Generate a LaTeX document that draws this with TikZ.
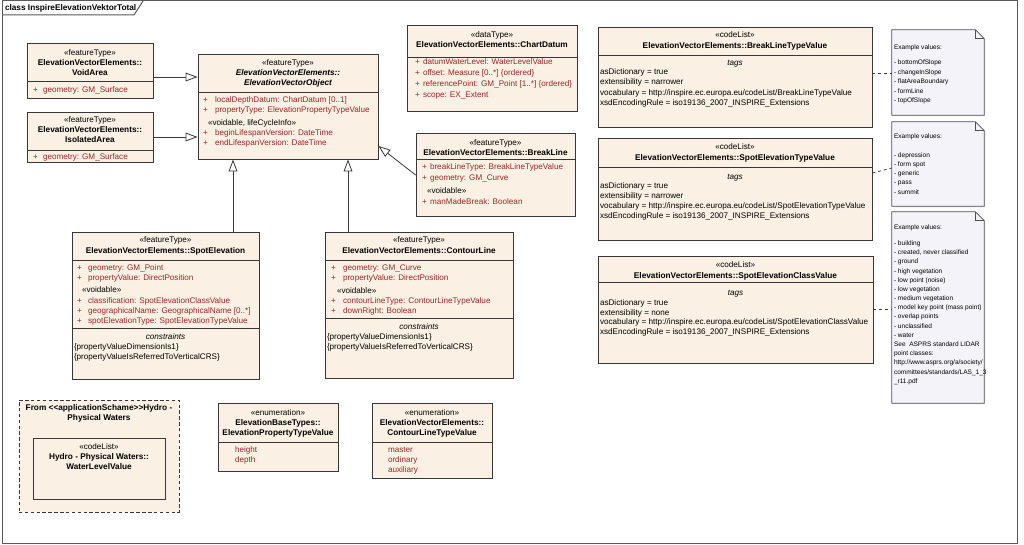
\documentclass[tikz,border=0pt]{standalone}
\usepackage{fontspec}
\setmainfont{Liberation Sans}
\usetikzlibrary{arrows.meta,fit,shadows}
\definecolor{boxF}{RGB}{250,240,227}
\definecolor{lineC}{RGB}{55,55,55}
\definecolor{attrC}{RGB}{155,40,40}
\definecolor{noteF}{RGB}{244,243,249}
\definecolor{noteL}{RGB}{80,80,80}
\newcounter{tlc}
\newcommand\tline[3][]{\stepcounter{tlc}\node[txt,#1] (tl\arabic{tlc}) at (#2) {#3};}
\newcommand\attr[4]{\tline[lt,ac]{#1,#3}{+}\tline[lt,ac]{#2,#3}{#4}}
\newcommand\ntl[2]{\tline[nt]{894,#1}{#2}}
\newcommand\mknote[5]{%
  \node[fit={(#2,#3) (#4,#5)}, inner sep=0pt] (#1) {};
  \path[noteshape] (#1.north west) -- ([xshift=-6.75pt]#1.north east) -- ([yshift=-6.75pt]#1.north east) -- (#1.south east) -- (#1.south west) -- cycle;
  \draw[noteL, line width=0.55pt] ([xshift=-6.75pt]#1.north east) |- ([yshift=-6.75pt]#1.north east);}
\tikzset{
  txt/.style={inner sep=0pt, outer sep=0pt, font=\fontsize{6.1}{7}\selectfont, text height=4.4pt, text depth=1.2pt},
  lt/.style={anchor=west},
  ac/.style={text=attrC},
  bd/.style={font=\fontsize{6.2}{7}\selectfont\bfseries},
  bi/.style={font=\fontsize{6.2}{7}\selectfont\bfseries\itshape},
  it/.style={font=\fontsize{6.1}{7}\selectfont\itshape},
  nt/.style={anchor=west, font=\fontsize{4.9}{6}\selectfont, text height=3.6pt, text depth=1pt},
  cls/.style={draw=lineC, fill=boxF, line width=0.65pt, inner sep=0pt, drop shadow={shadow xshift=0.9pt, shadow yshift=-0.9pt, fill=black!22}},
  pkg/.style={draw=lineC, fill=boxF, line width=0.6pt, inner sep=0pt, dash pattern=on 2.6pt off 1.8pt},
  noteshape/.style={draw=noteL, fill=noteF, line width=0.55pt, drop shadow={shadow xshift=0.9pt, shadow yshift=-0.9pt, fill=black!18}},
  divl/.style={draw=lineC, line width=0.65pt},
  frm/.style={draw=black!65, line width=0.75pt},
  gen/.style={draw=lineC, line width=0.6pt, -{Triangle[length=9pt,width=6.5pt,fill=white,line width=0.6pt]}},
  notelink/.style={draw=lineC, line width=0.55pt, dash pattern=on 2.2pt off 2.2pt},
}
\begin{document}
\begin{tikzpicture}[x=0.75pt,y=-0.75pt]
\fill[white] (0,0) rectangle (1024,545);
\useasboundingbox (0,0) rectangle (1024,545);
\draw[frm] (2,1) rectangle (1017,543);
\draw[frm] (2,15) -- (134,15) -- (143,1);
\tline[lt,bd]{5,8}{class InspireElevationVektorTotal}

% VoidArea
\node[cls, fit={(27,43) (153,98)}] (void) {};
\draw[divl] (27,81) -- (153,81);
\tline{90,53}{«featureType»}
\tline[bd]{90,63}{ElevationVectorElements::}
\tline[bd]{90,73}{VoidArea}
\attr{33}{43}{90}{geometry: GM\_Surface}

% IsolatedArea
\node[cls, fit={(27,112) (153,162)}] (iso) {};
\draw[divl] (27,150) -- (153,150);
\tline{90,120}{«featureType»}
\tline[bd]{90,130}{ElevationVectorElements::}
\tline[bd]{90,140}{IsolatedArea}
\attr{33}{43}{157}{geometry: GM\_Surface}

% ElevationVectorObject
\node[cls, fit={(198,54) (378,159)}] (evo) {};
\draw[divl] (198,92) -- (378,92);
\tline{288,63}{«featureType»}
\tline[bi]{288,73}{ElevationVectorElements::}
\tline[bi]{288,83}{ElevationVectorObject}
\attr{203}{215}{100}{localDepthDatum: ChartDatum [0..1]}
\attr{203}{215}{110}{propertyType: ElevationPropertyTypeValue}
\tline[lt]{208,123}{«voidable, lifeCycleInfo»}
\attr{203}{215}{133}{beginLifespanVersion: DateTime}
\attr{203}{215}{143}{endLifespanVersion: DateTime}

% ChartDatum
\node[cls, fit={(407,25) (577,111)}] (chart) {};
\draw[divl] (407,57) -- (577,57);
\tline{492,35}{«dataType»}
\tline[bd]{492,45}{ElevationVectorElements::ChartDatum}
\attr{415}{423}{62}{datumWaterLevel: WaterLevelValue}
\attr{415}{423}{73}{offset: Measure [0..*] \{ordered\}}
\attr{415}{423}{84}{referencePoint: GM\_Point [1..*] \{ordered\}}
\attr{415}{423}{95}{scope: EX\_Extent}

% BreakLine
\node[cls, fit={(416,133) (575,216)}] (brk) {};
\draw[divl] (416,159) -- (575,159);
\tline{495.5,143}{«featureType»}
\tline[bd]{495.5,153}{ElevationVectorElements::BreakLine}
\attr{422}{430}{167}{breakLineType: BreakLineTypeValue}
\attr{422}{430}{178}{geometry: GM\_Curve}
\tline[lt]{427,191}{«voidable»}
\attr{422}{430}{202}{manMadeBreak: Boolean}

% BreakLineTypeValue
\node[cls, fit={(598,27) (872,127)}] (blt) {};
\draw[divl] (598,55) -- (872,55);
\tline{735,35}{«codeList»}
\tline[bd]{735,46}{ElevationVectorElements::BreakLineTypeValue}
\tline[it]{735,63}{tags}
\tline[lt]{600,72}{asDictionary = true}
\tline[lt]{600,82}{extensibility = narrower}
\tline[lt]{600,93}{vocabulary = http://inspire.ec.europa.eu/codeList/BreakLineTypeValue}
\tline[lt]{600,103}{xsdEncodingRule = iso19136\_2007\_INSPIRE\_Extensions}

% SpotElevationTypeValue
\node[cls, fit={(598,138) (872,240)}] (setv) {};
\draw[divl] (598,167) -- (872,167);
\tline{735,147}{«codeList»}
\tline[bd]{735,158}{ElevationVectorElements::SpotElevationTypeValue}
\tline[it]{735,177}{tags}
\tline[lt]{600,186}{asDictionary = true}
\tline[lt]{600,196}{extensibility = narrower}
\tline[lt]{600,206}{vocabulary = http://inspire.ec.europa.eu/codeList/SpotElevationTypeValue}
\tline[lt]{600,216}{xsdEncodingRule = iso19136\_2007\_INSPIRE\_Extensions}

% SpotElevationClassValue
\node[cls, fit={(598,256) (873,363)}] (secv) {};
\draw[divl] (598,282) -- (873,282);
\tline{735.5,265}{«codeList»}
\tline[bd]{735.5,276}{ElevationVectorElements::SpotElevationClassValue}
\tline[it]{735.5,293}{tags}
\tline[lt]{600,303}{asDictionary = true}
\tline[lt]{600,313}{extensibility = none}
\tline[lt]{600,322}{vocabulary = http://inspire.ec.europa.eu/codeList/SpotElevationClassValue}
\tline[lt]{600,332}{xsdEncodingRule = iso19136\_2007\_INSPIRE\_Extensions}

% Notes
\mknote{n1}{892}{30}{984}{115}
\ntl{48}{Example values:}
\ntl{63}{- bottomOfSlope}
\ntl{73}{- changeInSlope}
\ntl{82}{- flatAreaBoundary}
\ntl{92}{- formLine}
\ntl{101}{- topOfSlope}

\mknote{n2}{892}{122}{984}{206}
\ntl{137}{Example values:}
\ntl{156}{- depression}
\ntl{165}{- form spot}
\ntl{174}{- generic}
\ntl{183}{- pass}
\ntl{193}{- summit}

\mknote{n3}{892}{212}{984}{403}
\ntl{228}{Example values:}
\ntl{244}{- building}
\ntl{253}{- created, never classified}
\ntl{262}{- ground}
\ntl{272}{- high vegetation}
\ntl{281}{- low point (noise)}
\ntl{290}{- low vegetation}
\ntl{299}{- medium vegetation}
\ntl{308}{- model key point (mass point)}
\ntl{317}{- overlap points}
\ntl{327}{- unclassified}
\ntl{336}{- water}
\ntl{345}{See~ ASPRS standard LIDAR}
\ntl{354}{point classes:}
\ntl{363}{http://www.asprs.org/a/society/}
\ntl{373}{committees/standards/LAS\_1\_3}
\ntl{382}{\_r11.pdf}

% SpotElevation
\node[cls, fit={(72,232) (259,379)}] (spot) {};
\draw[divl] (72,260) -- (259,260);
\draw[divl] (72,328) -- (259,328);
\tline{165.5,240}{«featureType»}
\tline[bd]{165.5,251}{ElevationVectorElements::SpotElevation}
\attr{77}{88}{268}{geometry: GM\_Point}
\attr{77}{88}{278}{propertyValue: DirectPosition}
\tline[lt]{82,290}{«voidable»}
\attr{77}{88}{301}{classification: SpotElevationClassValue}
\attr{77}{88}{311}{geographicalName: GeographicalName [0..*]}
\attr{77}{88}{321}{spotElevationType: SpotElevationTypeValue}
\tline[it]{165.5,337}{constraints}
\tline[lt]{74,347}{\{propertyValueDimensionIs1\}}
\tline[lt]{74,357}{\{propertyValueIsReferredToVerticalCRS\}}

% ContourLine
\node[cls, fit={(325,232) (513,378)}] (cont) {};
\draw[divl] (325,260) -- (513,260);
\draw[divl] (325,318) -- (513,318);
\tline{419,240}{«featureType»}
\tline[bd]{419,251}{ElevationVectorElements::ContourLine}
\attr{331}{343}{268}{geometry: GM\_Curve}
\attr{331}{343}{278}{propertyValue: DirectPosition}
\tline[lt]{337,291}{«voidable»}
\attr{331}{343}{301}{contourLineType: ContourLineTypeValue}
\attr{331}{343}{311}{downRight: Boolean}
\tline[it]{419,327}{constraints}
\tline[lt]{327,337}{\{propertyValueDimensionIs1\}}
\tline[lt]{327,347}{\{propertyValueIsReferredToVerticalCRS\}}

% Package
\node[pkg, fit={(19,400) (179,512)}] (pkgb) {};
\tline[bd]{99,408}{From <\kern0pt<applicationSchame>\kern0pt>Hydro -}
\tline[bd]{99,418}{Physical Waters}
\node[cls, fit={(33,438) (165,499)}] (wlv) {};
\tline{99,447}{«codeList»}
\tline[bd]{99,457}{Hydro - Physical Waters::}
\tline[bd]{99,467}{WaterLevelValue}

% Enumerations
\node[cls, fit={(218,403) (338,471)}] (ept) {};
\draw[divl] (218,442) -- (338,442);
\tline{278,413}{«enumeration»}
\tline[bd]{278,423}{ElevationBaseTypes::}
\tline[bd]{278,433}{ElevationPropertyTypeValue}
\tline[lt,ac]{235,450}{height}
\tline[lt,ac]{235,460}{depth}

\node[cls, fit={(372,403) (492,478)}] (clt) {};
\draw[divl] (372,442) -- (492,442);
\tline{432,413}{«enumeration»}
\tline[bd]{432,423}{ElevationVectorElements::}
\tline[bd]{432,433}{ContourLineTypeValue}
\tline[lt,ac]{388,450}{master}
\tline[lt,ac]{388,460}{ordinary}
\tline[lt,ac]{388,470}{auxiliary}

% Connectors
\coordinate (c77) at (0,77);
\coordinate (c137) at (0,137);
\coordinate (cb1) at (0,175);
\coordinate (cb2) at (0,146);
\coordinate (cs) at (233,0);
\coordinate (cc) at (348,0);
\draw[gen] (void.east |- c77) -- (evo.west |- c77);
\draw[gen] (iso.east |- c137) -- (evo.west |- c137);
\draw[gen] (brk.west |- cb1) -- (evo.east |- cb2);
\draw[gen] (spot.north -| cs) -- (evo.south -| cs);
\draw[gen] (cont.north -| cc) -- (evo.south -| cc);
\coordinate (d1) at (0,73);
\coordinate (d2a) at (0,173);
\coordinate (d2b) at (0,168);
\coordinate (d3) at (0,309);
\draw[notelink] (blt.east |- d1) -- (n1.west |- d1);
\draw[notelink] (setv.east |- d2a) -- (n2.west |- d2b);
\draw[notelink] (secv.east |- d3) -- (n3.west |- d3);
\end{tikzpicture}
\end{document}
